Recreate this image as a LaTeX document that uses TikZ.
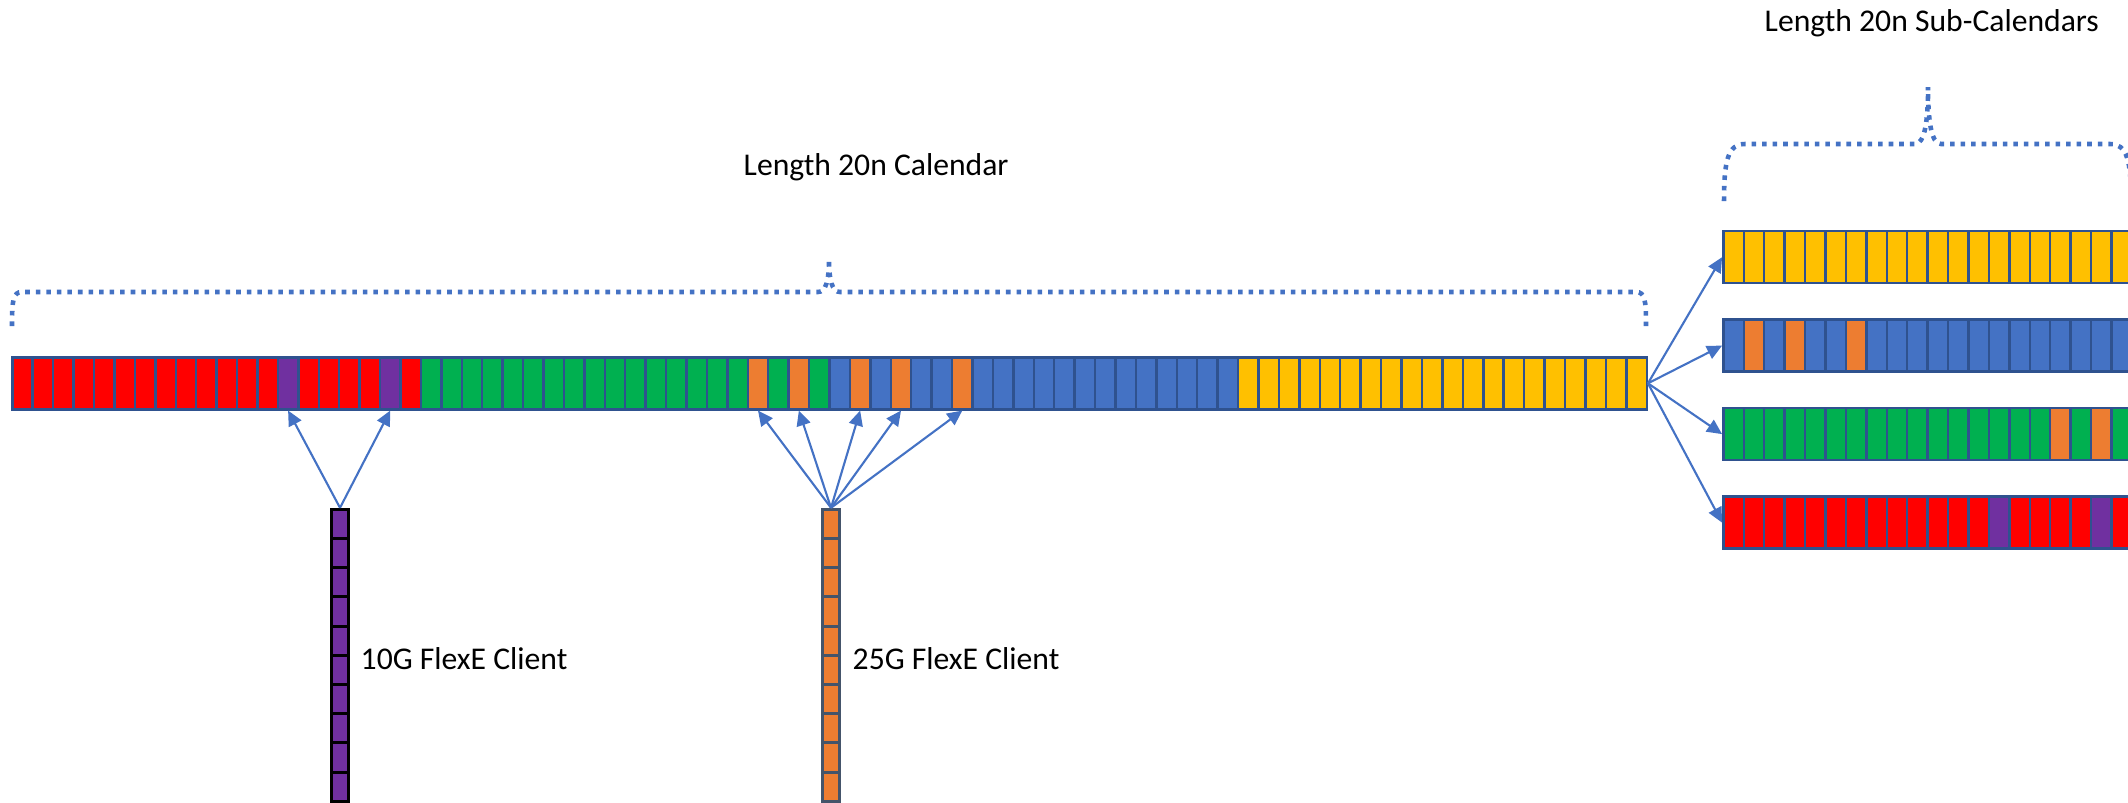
\documentclass[tikz,border=0pt]{standalone}
\usepackage{fontspec}
\setmainfont{Carlito}
\usetikzlibrary{arrows.meta}

\definecolor{slotred}{HTML}{FF0000}
\definecolor{slotgreen}{HTML}{00B050}
\definecolor{slotblue}{HTML}{4472C4}
\definecolor{slotyellow}{HTML}{FFC000}
\definecolor{slotorange}{HTML}{ED7D31}
\definecolor{slotpurple}{HTML}{7030A0}
\definecolor{slotline}{HTML}{2F528F}
\definecolor{tfline}{HTML}{44546A}

% slot colours of the four 20-slot sub-calendars
\def\redslots{slotred,slotred,slotred,slotred,slotred,slotred,slotred,slotred,slotred,slotred,slotred,slotred,slotred,slotpurple,slotred,slotred,slotred,slotred,slotpurple,slotred}
\def\greenslots{slotgreen,slotgreen,slotgreen,slotgreen,slotgreen,slotgreen,slotgreen,slotgreen,slotgreen,slotgreen,slotgreen,slotgreen,slotgreen,slotgreen,slotgreen,slotgreen,slotorange,slotgreen,slotorange,slotgreen}
\def\blueslots{slotblue,slotorange,slotblue,slotorange,slotblue,slotblue,slotorange,slotblue,slotblue,slotblue,slotblue,slotblue,slotblue,slotblue,slotblue,slotblue,slotblue,slotblue,slotblue,slotblue}
\def\yellowslots{slotyellow,slotyellow,slotyellow,slotyellow,slotyellow,slotyellow,slotyellow,slotyellow,slotyellow,slotyellow,slotyellow,slotyellow,slotyellow,slotyellow,slotyellow,slotyellow,slotyellow,slotyellow,slotyellow,slotyellow}

% #1 name, #2 left x, #3 centre y, #4 colour list
\newcommand{\slotrow}[4]{%
  \foreach \c [count=\i from 0] in #4 {\node[slot, fill=\c] (#1-\i) at ({#2+(\i+0.5)*20.43}, #3) {};}%
}

\begin{document}
\begin{tikzpicture}[x=0.01cm, y=-0.01cm,
    slot/.style={draw=slotline, line width=0.7pt, inner sep=0, minimum width=0.2043cm, minimum height=0.52cm},
    client/.style={line width=0.85pt, inner sep=0, minimum width=0.167cm, minimum height=0.292cm},
    feed/.style={draw=slotblue, line width=0.6pt, -{Triangle[length=0.15cm, width=0.14cm]}},
    brace/.style={draw=slotblue, line width=1.3pt, dash pattern=on 1.3pt off 1.7pt},
    note/.style={inner sep=0, font=\fontsize{9}{11}\selectfont}]
    \useasboundingbox (0,0) rectangle (2128,802);
    \clip (0,0) rectangle (2128,802);

    % Calendar
    \slotrow{calred}{12.3}{383.3}{\redslots}
    \slotrow{calgreen}{420.9}{383.3}{\greenslots}
    \slotrow{calblue}{829.5}{383.3}{\blueslots}
    \slotrow{calyellow}{1238.1}{383.3}{\yellowslots}

    % Sub-calendars
    \slotrow{subyellow}{1723.3}{257.2}{\yellowslots}
    \slotrow{subblue}{1723.3}{345.6}{\blueslots}
    \slotrow{subgreen}{1723.3}{434.1}{\greenslots}
    \slotrow{subred}{1723.3}{522.6}{\redslots}

    % Clients
    \foreach \i in {0,...,9} {
        \node[client, draw=black, fill=slotpurple] (ten-\i) at (340, {509.3+(\i+0.5)*29.2}) {};
        \node[client, draw=tfline, fill=slotorange] (tf-\i) at (831, {509.3+(\i+0.5)*29.2}) {};
    }

    \foreach \t in {calred-13, calred-18}
        \draw[feed] (ten-0.north) -- (\t.south);
    \foreach \t in {calgreen-16, calgreen-18, calblue-1, calblue-3, calblue-6}
        \draw[feed] (tf-0.north) -- (\t.south);
    \foreach \s in {subyellow, subblue, subgreen, subred}
        \draw[feed] (calyellow-19.east) -- (\s-0.west);

    % Braces
    \draw[brace] (12,326) .. controls (12,300) and (13,292) .. (22,292) -- (818,292)
        .. controls (826,292) and (829,280) .. (829,259)
        .. controls (829,280) and (832,292) .. (840,292) -- (1636,292)
        .. controls (1645,292) and (1646,300) .. (1646,326);
    \draw[brace] (1724,201) .. controls (1724,160) and (1728,144) .. (1745,144) -- (1915,144)
        .. controls (1925,144) and (1928,120) .. (1928,87)
        .. controls (1928,120) and (1931,144) .. (1941,144) -- (2110,144)
        .. controls (2127,144) and (2131,160) .. (2131,201);

    \node[note, anchor=base west] (callabel) at (743,175) {Length 20n Calendar};
    \node[note, anchor=base west] (sublabel) at (1764,31) {Length 20n Sub-Calendars};
    \node[note, anchor=base west] (tenlabel) at (360,669) {10G FlexE Client};
    \node[note, anchor=base west] (tflabel) at (852,669) {25G FlexE Client};
\end{tikzpicture}
\end{document}
